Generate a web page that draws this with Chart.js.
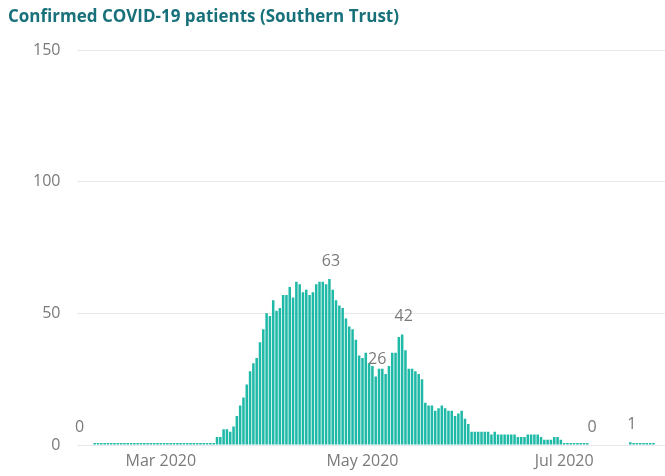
<!DOCTYPE html>
<html><head><meta charset="utf-8">
<script src="https://cdn.jsdelivr.net/npm/chart.js@4.4.1/dist/chart.umd.min.js"></script>
<style>html,body{margin:0;padding:0;background:#fff;}#wrap{width:665px;height:476px;position:relative;}</style>
</head><body><div id="wrap"><canvas id="c"></canvas></div>
<script>
// Axis range (daily categories)
const firstDay = '2020-02-05';
const lastDay = '2020-07-31';

// Confirmed COVID-19 patients per day, one array per month (null = no data)
const febValues = [null,null,null,null,null, 0,0,0,0,0,0,0,0,0,0,0,0,0,0,0,0,0,0,0,0]; // Feb 5-29
const marValues = [0,0,0,0,0,0,0,0,0,0,0,0,0,0,0,0,0, 3,3,6,6,5,7,11,15,18,23,28,31,33,39];
const aprValues = [44,50,49,55,51,52,57,57,60,56,62,61,58,59,57,58,61,62,62,61,63,59,55,53,52,48,45,44,40,34];
const mayValues = [33,35,31,30,26,29,29,27,30,35,35,41,42,36,29,29,28,27,25,16,15,15,13,14,15,14,13,13,11,12,13];
const junValues = [10,8,5,5,5,5,5,5,4,5,4,4,4,4,4,4,3,3,3,4,4,4,4,3,2,2,2,3,3,2];
const julValues = [0,0,0,0,0,0,0,0, null,null,null,null,null,null,null,null,null,null,null,null, 1,0,0,0,0,0,0,0, null,null,null];

// Tick labels on the x axis
const xTickLabels = {'2020-03-01':'Mar 2020','2020-05-01':'May 2020','2020-07-01':'Jul 2020'};
// Days that carry a data label
const labelledDays = ['2020-02-05','2020-04-21','2020-05-05','2020-05-13','2020-07-09','2020-07-21'];

const titleText = 'Confirmed COVID-19 patients (Southern Trust)';

// build the daily categories
const categories = [];
{
  const d = new Date(firstDay + 'T00:00:00Z');
  const end = new Date(lastDay + 'T00:00:00Z');
  while (d <= end) { categories.push(d.toISOString().slice(0,10)); d.setUTCDate(d.getUTCDate()+1); }
}
const values = [].concat(febValues, marValues, aprValues, mayValues, junValues, julValues);

const FONT = "'Segoe UI', 'Open Sans', sans-serif";

const labelPlugin = {
  id: 'pointLabels',
  afterDatasetsDraw(chart) {
    const ctx = chart.ctx, xs = chart.scales.x, ys = chart.scales.y;
    ctx.save();
    ctx.font = '16px ' + FONT;
    ctx.fillStyle = '#7a7a7a';
    ctx.textAlign = 'center';
    ctx.textBaseline = 'middle';
    labelledDays.forEach(day => {
      const i = categories.indexOf(day);
      const v = values[i] == null ? 0 : values[i];
      ctx.fillText(String(v), xs.getPixelForValue(i) + 1.5, ys.getPixelForValue(v) - 17.5);
    });
    ctx.restore();
  }
};

new Chart(document.getElementById('c'), {
  type: 'bar',
  data: {
    labels: categories,
    datasets: [{
      data: values,
      backgroundColor: '#1FB9A7',
      borderWidth: 0,
      barPercentage: 0.76,
      categoryPercentage: 1,
      minBarLength: 2
    }]
  },
  options: {
    responsive: true,
    maintainAspectRatio: false,
    animation: false,
    layout: { padding: { left: 8, right: 0, top: 0, bottom: 0 } },
    plugins: {
      legend: { display: false },
      tooltip: { enabled: false },
      title: {
        display: true, text: titleText, align: 'start',
        color: '#17707A',
        font: { family: FONT, size: 17, weight: 'bold' },
        padding: { top: 7, bottom: 22.6 }
      }
    },
    scales: {
      x: {
        grid: { display: false, drawTicks: false },
        border: { display: false },
        ticks: {
          autoSkip: false, maxRotation: 0, minRotation: 0,
          padding: 7, color: '#7a7a7a',
          font: { family: FONT, size: 16 },
          callback: (v, i) => xTickLabels[categories[i]] ?? null
        },
        afterFit: s => { s.height = 31; }
      },
      y: {
        min: 0, max: 150,
        ticks: { stepSize: 50, padding: 16, color: '#7a7a7a', font: { family: FONT, size: 16 } },
        grid: { color: '#E8E8E8', drawTicks: false, lineWidth: 1 },
        border: { display: false },
        afterFit: s => { s.width = 68.5; }
      }
    }
  },
  plugins: [labelPlugin]
});
</script></body></html>
